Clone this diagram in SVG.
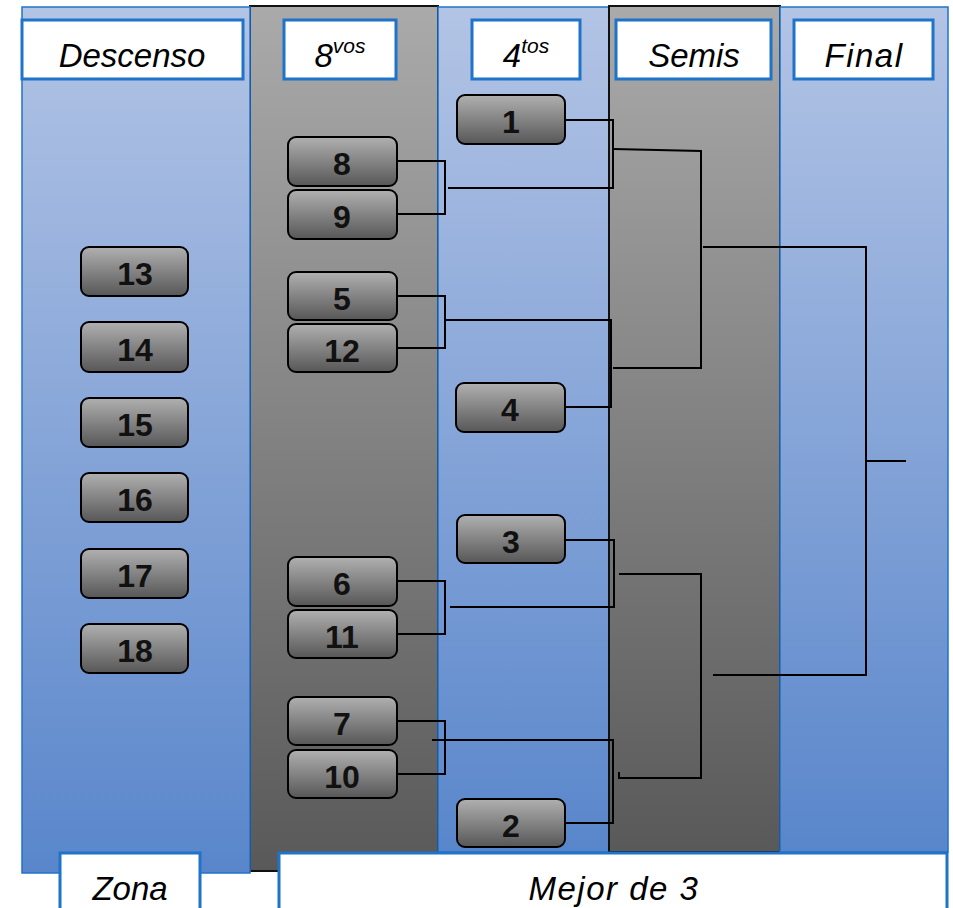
<svg xmlns="http://www.w3.org/2000/svg" width="953" height="908" viewBox="0 0 953 908">
<defs>
<linearGradient id="gBlue" x1="0" y1="0" x2="0" y2="1"><stop offset="0" stop-color="#b3c4e5"/><stop offset="1" stop-color="#5986cb"/></linearGradient>
<linearGradient id="gGray" x1="0" y1="0" x2="0" y2="1"><stop offset="0" stop-color="#aaaaaa"/><stop offset="1" stop-color="#595959"/></linearGradient>
<linearGradient id="gBox" x1="0" y1="0" x2="0" y2="1"><stop offset="0" stop-color="#b0b0b0"/><stop offset="1" stop-color="#575757"/></linearGradient>
</defs>
<style>
.colB{fill:url(#gBlue);stroke:#1f73c9;stroke-width:1.5}
.colG{fill:url(#gGray);stroke:#111;stroke-width:2}
.hdr{fill:#fff;stroke:#1f73c9;stroke-width:3}
.ht{font-family:"Liberation Sans",Arial,sans-serif;font-style:italic;font-size:33px;fill:#000;text-anchor:middle}
.box{fill:url(#gBox);stroke:#000;stroke-width:2}
.num{font-family:"Liberation Sans",Arial,sans-serif;font-weight:bold;font-size:32px;fill:#111;text-anchor:middle}
.con{fill:none;stroke:#000;stroke-width:2}
</style>
<rect width="953" height="908" fill="#fff"/>
<g id="columns">
<rect class="colG" x="250" y="6" width="188" height="865"/>
<rect class="colB" x="22" y="7" width="228" height="866"/>
<rect class="colB" x="438" y="7" width="171" height="845"/>
<rect class="colG" x="609" y="6" width="171" height="846"/>
<rect class="colB" x="780" y="7" width="168" height="845"/>
</g>
<g id="headers">
<g id="h-descenso"><rect class="hdr" x="22" y="20" width="221" height="59"/><text class="ht" x="132" y="67">Descenso</text></g>
<g id="h-8vos"><rect class="hdr" x="284" y="20" width="112" height="59"/><text class="ht" x="340" y="67">8<tspan font-size="21" dy="-14">vos</tspan></text></g>
<g id="h-4tos"><rect class="hdr" x="472" y="20" width="108" height="59"/><text class="ht" x="526" y="67">4<tspan font-size="21" dy="-14">tos</tspan></text></g>
<g id="h-semis"><rect class="hdr" x="616" y="20" width="155" height="59"/><text class="ht" x="694" y="67">Semis</text></g>
<g id="h-final"><rect class="hdr" x="794" y="20" width="139" height="59"/><text class="ht" x="864" y="67" letter-spacing="1.5">Final</text></g>
<g id="f-zona"><rect class="hdr" x="60" y="853" width="140" height="70"/><text class="ht" x="130" y="900">Zona</text></g>
<g id="f-mejor"><rect class="hdr" x="279" y="853" width="668" height="70"/><text class="ht" x="614" y="900" font-size="35" letter-spacing="1.5">Mejor de 3</text></g>
</g>
<g id="connectors">
<path class="con" d="M397,161 H445 V214 H397"/>
<path class="con" d="M448,188 H613 V120 H565"/>
<path class="con" d="M397,296 H445 V348 H397"/>
<path class="con" d="M445,320 H611 V407 H565"/>
<path class="con" d="M613,149 L701,151 V368 H613"/>
<path class="con" d="M703,247 H866 V675 H713"/>
<path class="con" d="M866,461 H906"/>
<path class="con" d="M397,581 H445 V634 H397"/>
<path class="con" d="M450,607 H614 V540 H565"/>
<path class="con" d="M397,721 H445 V774 H397"/>
<path class="con" d="M432,740 H613 V823 H565"/>
<path class="con" d="M619,574 H701 V778 H619 V772"/>
</g>
<g id="n1"><rect class="box" x="457" y="95" width="108" height="49" rx="8"/><text class="num" x="511" y="133">1</text></g>
<g id="n8"><rect class="box" x="288" y="137" width="109" height="49" rx="8"/><text class="num" x="342" y="175">8</text></g>
<g id="n9"><rect class="box" x="288" y="190" width="109" height="49" rx="8"/><text class="num" x="342" y="228">9</text></g>
<g id="n5"><rect class="box" x="288" y="272" width="109" height="48" rx="8"/><text class="num" x="342" y="310">5</text></g>
<g id="n12"><rect class="box" x="288" y="324" width="109" height="48" rx="8"/><text class="num" x="342" y="362">12</text></g>
<g id="n4"><rect class="box" x="456" y="383" width="109" height="49" rx="8"/><text class="num" x="510" y="421">4</text></g>
<g id="n13"><rect class="box" x="81" y="247" width="107" height="49" rx="8"/><text class="num" x="135" y="285">13</text></g>
<g id="n14"><rect class="box" x="81" y="322" width="107" height="50" rx="8"/><text class="num" x="135" y="361">14</text></g>
<g id="n15"><rect class="box" x="81" y="398" width="107" height="49" rx="8"/><text class="num" x="135" y="436">15</text></g>
<g id="n16"><rect class="box" x="81" y="473" width="107" height="49" rx="8"/><text class="num" x="135" y="511">16</text></g>
<g id="n17"><rect class="box" x="81" y="549" width="107" height="49" rx="8"/><text class="num" x="135" y="587">17</text></g>
<g id="n18"><rect class="box" x="81" y="624" width="107" height="49" rx="8"/><text class="num" x="135" y="662">18</text></g>
<g id="n3"><rect class="box" x="457" y="515" width="108" height="48" rx="8"/><text class="num" x="511" y="553">3</text></g>
<g id="n6"><rect class="box" x="288" y="557" width="109" height="49" rx="8"/><text class="num" x="342" y="595">6</text></g>
<g id="n11"><rect class="box" x="288" y="610" width="109" height="48" rx="8"/><text class="num" x="342" y="648">11</text></g>
<g id="n7"><rect class="box" x="288" y="697" width="109" height="48" rx="8"/><text class="num" x="342" y="735">7</text></g>
<g id="n10"><rect class="box" x="288" y="750" width="109" height="48" rx="8"/><text class="num" x="342" y="788">10</text></g>
<g id="n2"><rect class="box" x="457" y="799" width="108" height="48" rx="8"/><text class="num" x="511" y="837">2</text></g>
</svg>
